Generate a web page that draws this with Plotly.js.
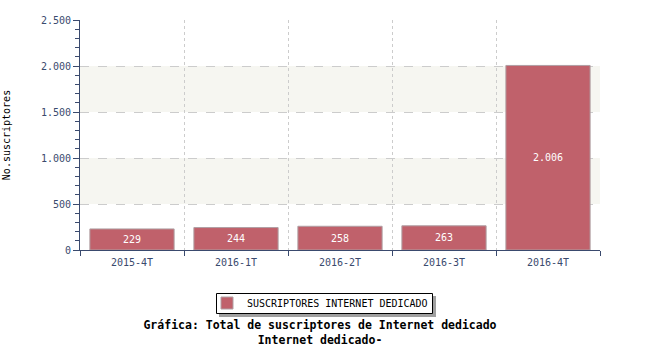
<!DOCTYPE html>
<html>
<head>
<meta charset="utf-8">
<script src="https://cdn.plot.ly/plotly-3.0.1.min.js"></script>
<style>body{margin:0;padding:0;background:#fff}#chart{width:650px;height:350px}</style>
</head>
<body>
<div id="chart"></div>
<script>
const categories = ["2015-4T", "2016-1T", "2016-2T", "2016-3T", "2016-4T"];
const suscriptores = [229, 244, 258, 263, 2006];
const seriesName = "SUSCRIPTORES INTERNET DEDICADO";
const chartTitle = "Gráfica: Total de suscriptores de Internet dedicado<br>Internet dedicado-";
const yTitle = "No.suscriptores";
const bands = [[500, 1000], [1500, 2000]];

const mono = "DejaVu Sans Mono, monospace";
const axisColor = "#3a4a6e";

const trace = {
  type: "bar",
  x: categories,
  y: suscriptores,
  name: seriesName,
  marker: {color: "#c0616b", line: {color: "#b0a0a4", width: 1}},
  width: 0.81,
  text: suscriptores,
  texttemplate: "%{y:,}",
  textposition: "inside",
  insidetextanchor: "middle",
  textfont: {color: "#ffffff", family: mono, size: 10},
  hoverinfo: "x+y"
};

const px = v => (v - 80) / 520;   // pixel x -> paper
const py = v => (250 - v) / 230;  // pixel y -> paper

const shapes = bands.map(b => ({
  type: "rect", xref: "paper", yref: "y", x0: 0, x1: 1, y0: b[0], y1: b[1],
  fillcolor: "#f6f6f1", line: {width: 0}, layer: "below"
}));
// legend shadow and box
shapes.push({type: "rect", xref: "paper", yref: "paper",
  x0: px(219), x1: px(436), y0: py(317), y1: py(296),
  fillcolor: "#a0a0a0", line: {width: 0}, layer: "above"});
shapes.push({type: "rect", xref: "paper", yref: "paper",
  x0: px(216.5), x1: px(432.5), y0: py(313.5), y1: py(293.5),
  fillcolor: "#ffffff", line: {width: 1, color: "#000000"}, layer: "above"});

const layout = {
  width: 650, height: 350,
  margin: {l: 80, r: 50, t: 20, b: 100},
  paper_bgcolor: "#ffffff",
  plot_bgcolor: "rgba(0,0,0,0)",
  separators: ",.",
  font: {family: mono, size: 10, color: axisColor},
  showlegend: true,
  title: {
    text: "<b>" + chartTitle + "</b>",
    font: {family: mono, size: 11.5, color: "#000000"},
    x: 320 / 650, xanchor: "center",
    y: 1 - 329 / 350, yanchor: "top", yref: "container"
  },
  legend: {
    orientation: "h",
    x: px(207), xanchor: "left",
    y: py(303), yanchor: "middle",
    bgcolor: "rgba(0,0,0,0)", borderwidth: 0,
    font: {family: mono, size: 10, color: "#000000"},
    itemwidth: 30
  },
  xaxis: {
    type: "category",
    tickson: "boundaries",
    ticks: "outside", ticklen: 5, tickcolor: axisColor,
    showline: true, linecolor: axisColor, linewidth: 1,
    showgrid: true, gridcolor: "#cccccc", griddash: "dot", gridwidth: 1,
    tickfont: {family: mono, size: 10, color: axisColor},
    ticklabelstandoff: 3,
    fixedrange: true
  },
  yaxis: {
    range: [0, 2500],
    dtick: 500,
    tickformat: ",",
    ticks: "outside", ticklen: 6, tickcolor: axisColor,
    minor: {dtick: 100, ticks: "outside", ticklen: 4, tickcolor: axisColor, showgrid: false},
    showline: true, linecolor: axisColor, linewidth: 1,
    showgrid: true, gridcolor: "#cccccc", griddash: "dash", gridwidth: 1,
    zeroline: false,
    tickfont: {family: mono, size: 10, color: axisColor},
    title: {text: yTitle, font: {family: mono, size: 10, color: "#000000"}, standoff: 28},
    fixedrange: true
  },
  shapes: shapes,
  bargap: 0.19
};

Plotly.newPlot("chart", [trace], layout, {displayModeBar: false, staticPlot: true});
</script>
</body>
</html>
